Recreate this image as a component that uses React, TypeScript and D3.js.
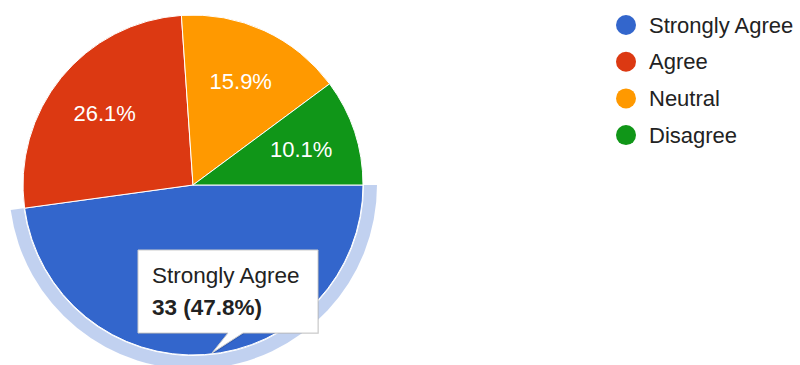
import React from "react";
import * as d3 from "d3";

const categories = ["Strongly Agree", "Agree", "Neutral", "Disagree"];
const counts = [33, 18, 11, 7];
const colors = ["#3366cc", "#dc3912", "#ff9900", "#109618"];
const selectedIndex = 0;

const W = 800;
const H = 365;
const cx = 193;
const cy = 185;
const R = 170;
const FONT = "'Liberation Sans', Arial, sans-serif";

export default function App() {
  const total = d3.sum(counts);
  const pie = d3
    .pie<number>()
    .sort(null)
    .startAngle(Math.PI / 2)
    .endAngle(Math.PI / 2 + 2 * Math.PI)
    .value((d) => d);
  const arcs = pie(counts);
  const arc = d3.arc<d3.PieArcDatum<number>>().innerRadius(0).outerRadius(R);
  const ring = d3
    .arc<d3.PieArcDatum<number>>()
    .innerRadius(R + 1)
    .outerRadius(R + 14);
  const labelArc = d3
    .arc<d3.PieArcDatum<number>>()
    .innerRadius(R * 0.67)
    .outerRadius(R * 0.67);
  const pct = (v: number) => ((v / total) * 100).toFixed(1) + "%";

  const sel = arcs[selectedIndex];

  return (
    <svg
      width={W}
      height={H}
      style={{ position: "absolute", left: 0, top: 0, background: "#fff" }}
      fontFamily={FONT}
    >
      <g transform={`translate(${cx},${cy})`}>
        <path d={ring(sel) || ""} fill="#3366cc" fillOpacity={0.3} />
        {arcs.map((a, i) => (
          <path key={i} d={arc(a) || ""} fill={colors[i]} stroke="#fff" strokeWidth={1} />
        ))}
        {arcs.map((a, i) => {
          // the selected slice's label is hidden beneath the tooltip
          if (i === selectedIndex) return null;
          const [x, y] = labelArc.centroid(a);
          return (
            <text
              key={"l" + i}
              x={x}
              y={y}
              dy="0.35em"
              textAnchor="middle"
              fill="#fff"
              fontSize={22}
            >
              {pct(a.data)}
            </text>
          );
        })}
      </g>
      {/* tooltip */}
      <g>
        <path
          d="M139,251 L319,251 L319,334 L244,334 L213,354 L229,334 L139,334 Z"
          fill="#000"
          fillOpacity={0.12}
        />
        <path
          d="M138,250 L318,250 L318,333 L243,333 L212,353 L228,333 L138,333 Z"
          fill="#fff"
          stroke="#cccccc"
          strokeWidth={1}
        />
        <text x={152} y={283} fontSize={22.5} fill="#222">
          {categories[selectedIndex]}
        </text>
        <text x={152} y={315} fontSize={22.5} fill="#222" fontWeight="bold">
          {`${counts[selectedIndex]} (${pct(counts[selectedIndex])})`}
        </text>
      </g>
      {/* legend */}
      {categories.map((c, i) => (
        <g key={c} transform={`translate(626,${25 + i * 36.7})`}>
          <circle r={10} fill={colors[i]} />
          <text x={23} dy="0.35em" fontSize={22} fill="#222">
            {c}
          </text>
        </g>
      ))}
    </svg>
  );
}
